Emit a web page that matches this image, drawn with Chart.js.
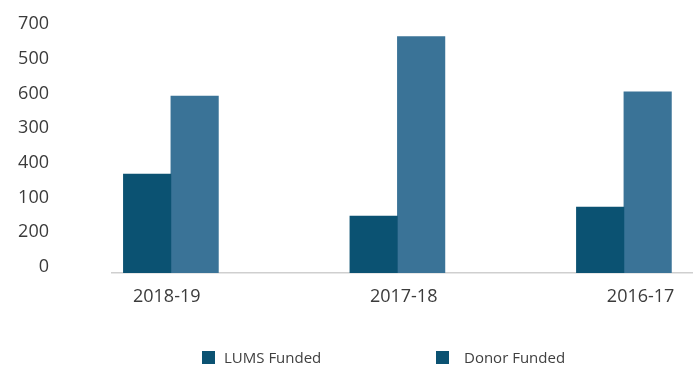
<!DOCTYPE html>
<html>
<head>
<meta charset="utf-8">
<script src="https://cdn.jsdelivr.net/npm/chart.js@4/dist/chart.umd.min.js"></script>
<style>
    html, body { margin: 0; padding: 0; background: #fff; }
    #wrap { position: relative; width: 693px; height: 368px; }
    #legend { position: absolute; left: 0; top: 348px; width: 693px; height: 20px;
              font-family: 'Open Sans', sans-serif; font-size: 15px; color: #404040; }
    .item { position: absolute; top: 0; display: flex; align-items: center; height: 18px; }
    .swatch { width: 13px; height: 13px; display: inline-block; }
</style>
</head>
<body>
<div id="wrap">
    <canvas id="fundingChart" width="693" height="368"></canvas>
    <div id="legend"></div>
</div>
<script>
(function () {
    'use strict';

    // ---- data ----
    const years = ['2018-19', '2017-18', '2016-17'];
    const lumsFunded = [285, 164, 190];
    const donorFunded = [510, 681, 522];
    // y labels in the order they are printed, bottom to top
    const yTickLabels = ['0', '200', '100', '400', '300', '600', '500', '700'];

    const COLORS = {
        lums: '#0b5272',
        donor: '#3a7397',
        legend: '#0b5272',
        text: '#3b3b3b',
        axis: '#cfcfcf'
    };

    const FONT = "'Open Sans', sans-serif";

    // legend placement (left edge of swatch, gap to text)
    const legendItems = [
        { left: 202, gap: 9 },
        { left: 436, gap: 15 }
    ];

    const ctx = document.getElementById('fundingChart').getContext('2d');

    const chart = new Chart(ctx, {
        type: 'bar',
        data: {
            datasets: [{
                label: 'LUMS Funded',
                data: lumsFunded.map((v, i) => ({ x: i, y: v })),
                backgroundColor: COLORS.lums,
                barThickness: 47.5,
                xAxisID: 'x'
            }, {
                label: 'Donor Funded',
                data: donorFunded.map((v, i) => ({ x: i, y: v })),
                backgroundColor: COLORS.donor,
                barThickness: 47.5,
                xAxisID: 'x'
            }]
        },
        options: {
            responsive: false,
            animation: false,
            layout: { padding: { top: 30, right: 0, bottom: 0, left: 0 } },
            plugins: {
                legend: { display: false },
                tooltip: { enabled: false }
            },
            scales: {
                // axis the bars sit on
                x: {
                    type: 'linear',
                    position: 'bottom',
                    offset: false,
                    min: -0.26,
                    max: 2.305,
                    grid: { display: false, drawTicks: false },
                    border: { display: true, color: COLORS.axis, width: 1.5 },
                    ticks: { display: false },
                    afterFit: scale => { scale.height = 0; }
                },
                // category names sit on their own slightly wider spacing
                xLabels: {
                    type: 'linear',
                    position: 'bottom',
                    offset: false,
                    min: -0.231,
                    max: 2.221,
                    grid: { display: false, drawTicks: false },
                    border: { display: false },
                    afterBuildTicks: scale => {
                        scale.ticks = years.map((_, i) => ({ value: i }));
                    },
                    ticks: {
                        color: COLORS.text,
                        font: { family: FONT, size: 18 },
                        padding: 13,
                        maxRotation: 0,
                        autoSkip: false,
                        callback: (value) => years[value]
                    },
                    afterFit: scale => { scale.height = 95; }
                },
                y: {
                    min: 0,
                    max: 700,
                    grid: { display: false, drawTicks: false },
                    border: { display: false },
                    ticks: {
                        stepSize: 100,
                        color: COLORS.text,
                        font: { family: FONT, size: 18 },
                        padding: 63,
                        labelOffset: -6,
                        callback: (value, index) => yTickLabels[index]
                    },
                    afterFit: scale => {
                        // the wide label gap is horizontal only
                        scale.width = 112;
                        scale.paddingTop = 0;
                        scale.paddingBottom = 0;
                    }
                }
            }
        }
    });

    // ---- html legend built from the datasets ----
    const legend = document.getElementById('legend');
    chart.data.datasets.forEach((ds, i) => {
        const item = document.createElement('div');
        item.className = 'item';
        item.style.left = legendItems[i].left + 'px';

        const swatch = document.createElement('span');
        swatch.className = 'swatch';
        swatch.style.background = COLORS.legend;

        const text = document.createElement('span');
        text.textContent = ds.label;
        text.style.marginLeft = legendItems[i].gap + 'px';

        item.appendChild(swatch);
        item.appendChild(text);
        legend.appendChild(item);
    });
})();
</script>
</body>
</html>
